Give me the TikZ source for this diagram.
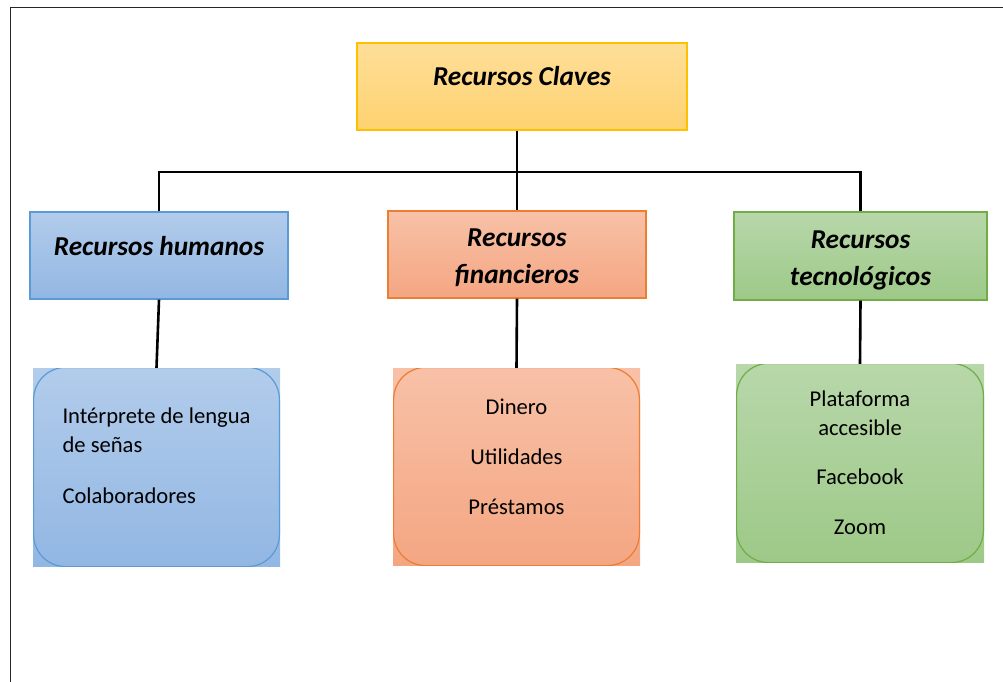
\documentclass[tikz,border=0pt]{standalone}
\usepackage{fontspec}
\setmainfont{Carlito}
\usepackage{tikz}
\usetikzlibrary{positioning, calc}
\definecolor{keyTop}{RGB}{254,222,152}
\definecolor{keyBot}{RGB}{254,210,112}
\definecolor{keyLine}{RGB}{255,192,0}
\definecolor{humTop}{RGB}{178,204,235}
\definecolor{humBot}{RGB}{146,183,227}
\definecolor{humLine}{RGB}{91,155,213}
\definecolor{finTop}{RGB}{248,193,167}
\definecolor{finBot}{RGB}{244,166,130}
\definecolor{finLine}{RGB}{237,125,49}
\definecolor{tecTop}{RGB}{184,215,170}
\definecolor{tecBot}{RGB}{157,201,136}
\definecolor{tecLine}{RGB}{112,173,71}

\begin{document}
\begin{tikzpicture}[
    x=1pt, y=-1pt,
    block/.style={rectangle, line width=1.4pt, inner xsep=2pt, inner ysep=0pt,
                  align=center, font=\fontsize{27.3}{36.5}\selectfont\bfseries\itshape},
    keyblk/.style={block, draw=keyLine, top color=keyTop, bottom color=keyBot},
    humblk/.style={block, draw=humLine, top color=humTop, bottom color=humBot},
    finblk/.style={block, draw=finLine, top color=finTop, bottom color=finBot},
    tecblk/.style={block, draw=tecLine, top color=tecTop, bottom color=tecBot},
    list/.style={rectangle, inner xsep=2pt, inner ysep=0pt,
                 font=\fontsize{22.6}{29}\selectfont},
    rim/.style={path picture={\draw[#1, line width=1.2pt, rounded corners=32pt]
                  ([shift={(0.6pt,-0.6pt)}]path picture bounding box.south west) rectangle
                  ([shift={(-0.6pt,0.6pt)}]path picture bounding box.north east);}},
    humlst/.style={list, top color=humTop, bottom color=humBot, rim=humLine},
    finlst/.style={list, top color=finTop, bottom color=finBot, rim=finLine},
    teclst/.style={list, top color=tecTop, bottom color=tecBot, rim=tecLine},
    link/.style={line width=2.6pt},
]
    \useasboundingbox (0,0) rectangle (1003,681);
    \clip (0,0) rectangle (1003,681);

    % Outer frame.
    \draw[line width=1.8pt, black!85] (10.5,7.5) rectangle (1030,720);

    % Title box.
    \node[keyblk, minimum width=330pt, text height=42pt, text depth=45pt] (claves)
        at (522,86.5) {Recursos Claves};

    % Resource groups.
    \node[humblk, minimum width=258pt, text height=43pt, text depth=44pt] (hum)
        at (159,255.5) {Recursos humanos};
    \node[finblk, minimum width=258pt, text height=72pt, text depth=15pt] (fin)
        at (517,254.5) {Recursos\\financieros};
    \node[tecblk, minimum width=253pt, text height=73pt, text depth=15pt] (tec)
        at (860.5,256) {Recursos\\tecnológicos};

    % Item lists.
    \node[humlst, minimum width=247pt, text height=135pt, text depth=63pt, align=left] (humlist)
        at (156.5,467) {Intérprete de lengua\\de señas\\[22pt]Colaboradores};
    \node[finlst, minimum width=247pt, text height=146pt, text depth=51pt, align=center] (finlist)
        at (516.5,466.5) {Dinero\\[21pt]Utilidades\\[21pt]Préstamos};
    \node[teclst, minimum width=248pt, text height=170pt, text depth=28pt, align=center] (teclist)
        at (860,463) {Plataforma\\accesible\\[20pt]Facebook\\[21pt]Zoom};

    % Connectors.
    \coordinate (bus) at (515,172);
    \draw[link] (claves.south -| fin.north) -- (fin.north);
    \draw[link] (hum.north) |- (bus) -| (tec.north);
    \draw[link] (hum.south) -- (humlist.north);
    \draw[link] (fin.south) -- (finlist.north);
    \draw[link] (tec.south) -- (teclist.north);
\end{tikzpicture}
\end{document}
